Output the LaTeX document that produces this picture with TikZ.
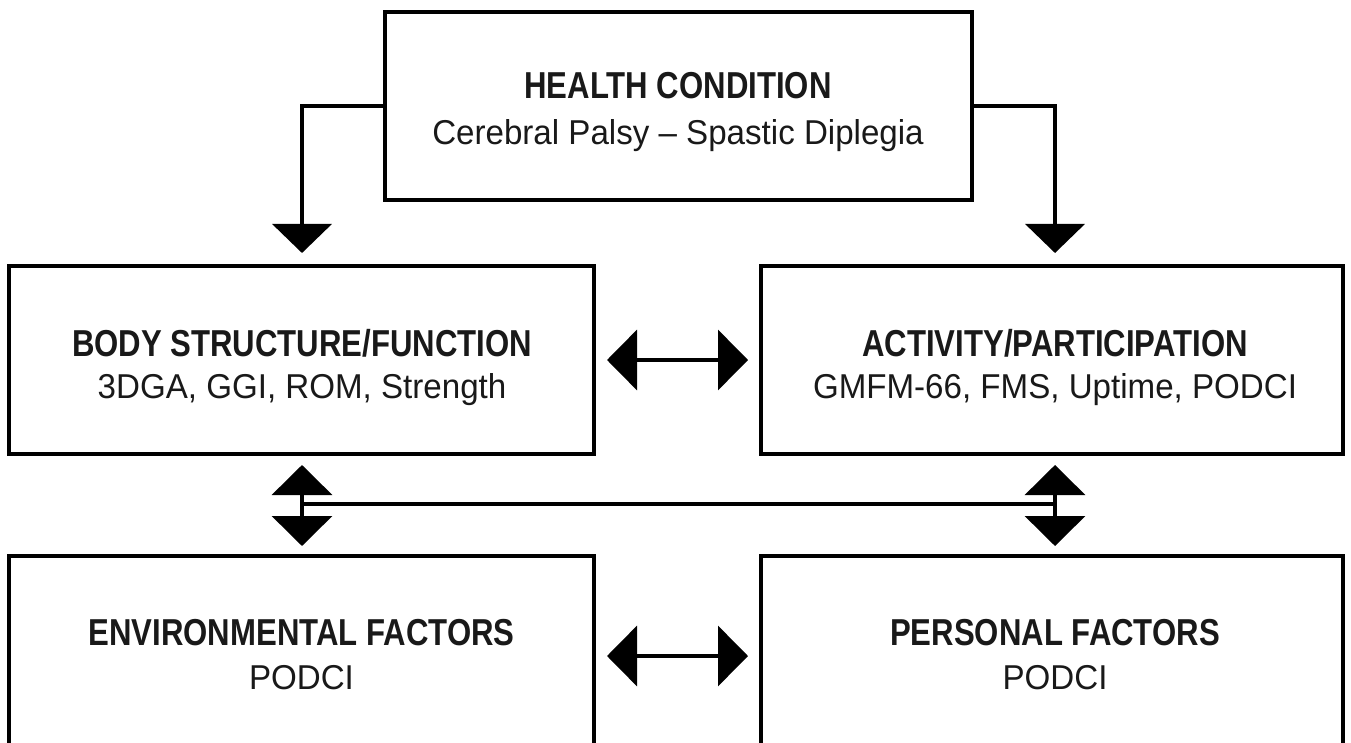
\documentclass[tikz,border=0pt]{standalone}
\usepackage{fontspec}
\setmainfont{Liberation Sans}
\newfontfamily\headfont{Liberation Sans}[FakeStretch=0.83]
\newfontfamily\subfont{Liberation Sans}[FakeStretch=0.96]
\usetikzlibrary{arrows.meta}
\begin{document}
\begin{tikzpicture}[x=1pt,y=-1pt,
  box/.style={draw=black,line width=4pt,fill=white,inner sep=0pt,anchor=center},
  head/.style={anchor=base,inner sep=0pt,font=\headfont\bfseries\fontsize{37.5}{40}\selectfont,text=black!90},
  sub/.style={anchor=base,inner sep=0pt,font=\subfont\fontsize{34.5}{38}\selectfont,text=black!90},
  feed/.style={line width=4pt,-{Triangle[length=29pt,width=59pt]}},
  twoway/.style={line width=3.5pt,{Triangle[length=30pt,width=60pt]}-{Triangle[length=30pt,width=60pt]}},
  link/.style={line width=3.5pt}]
\useasboundingbox (0,0) rectangle (1351,743);
\fill[white] (0,0) rectangle (1351,743);

% boxes
\node[box,minimum width=587pt,minimum height=188pt] (hc)  at (678.5,106) {};
\node[box,minimum width=585pt,minimum height=188pt] (bsf) at (301.5,360) {};
\node[box,minimum width=582pt,minimum height=188pt] (ap)  at (1052,360) {};
\node[box,minimum width=585pt,minimum height=200pt] (ef)  at (301.5,656) {};
\node[box,minimum width=582pt,minimum height=200pt] (pf)  at (1052,656) {};

% labels
\node[head] (hct) at (678,99) {HEALTH CONDITION};
\node[sub]  (hcs) at (678,145) {Cerebral Palsy – Spastic Diplegia};
\node[head] (bsft) at (302,356) {BODY STRUCTURE/FUNCTION};
\node[sub]  (bsfs) at (302,398) {3DGA, GGI, ROM, Strength};
\node[head] (apt) at (1055,356) {ACTIVITY/PARTICIPATION};
\node[sub]  (aps) at (1055,398) {GMFM-66, FMS, Uptime, PODCI};
\node[head] (eft) at (301.5,645) {ENVIRONMENTAL FACTORS};
\node[sub]  (efs) at (301.5,689) {PODCI};
\node[head] (pft) at (1055,645) {PERSONAL FACTORS};
\node[sub]  (pfs) at (1055,689) {PODCI};

% arrow end points
\coordinate (tipL) at (302,253);
\coordinate (tipR) at (1055,253);
\coordinate (upL) at (302,465);
\coordinate (dnL) at (302,546);
\coordinate (upR) at (1055,465);
\coordinate (dnR) at (1055,546);
\coordinate (midL) at (302,504);
\coordinate (midR) at (1055,504);

% health condition feeds both sides
\draw[feed] (hc.west) -| (tipL);
\draw[feed] (hc.east) -| (tipR);

% two-way links between neighbouring boxes
\draw[twoway] ([xshift=11pt]bsf.east) -- ([xshift=-11pt]ap.west);
\draw[twoway] ([xshift=11pt]ef.east) -- ([xshift=-11pt]pf.west);
\draw[twoway] (upL) -- (dnL);
\draw[twoway] (upR) -- (dnR);
\draw[link] (midL) -- (midR);
\end{tikzpicture}
\end{document}
